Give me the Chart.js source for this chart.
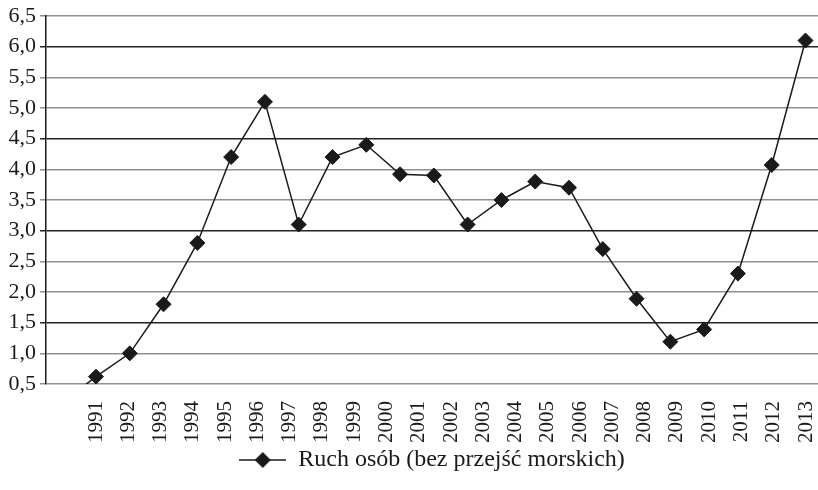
<!DOCTYPE html>
<html>
<head>
<meta charset="utf-8">
<script src="https://cdn.jsdelivr.net/npm/chart.js@4"></script>
<style>
  html, body { margin: 0; padding: 0; background: #fff; }
  #wrap { width: 818px; height: 490px; position: relative; }
</style>
</head>
<body>
<div id="wrap"><canvas id="c"></canvas></div>
<script>
// Ruch osób (bez przejść morskich)
var seriesLabel = 'Ruch osób (bez przejść morskich)';
// the line has its own evenly spaced slots (first one lies below the axis and is clipped)
var pointYears = [1990, 1991, 1992, 1993, 1994, 1995, 1996, 1997, 1998, 1999, 2000, 2001,
                  2002, 2003, 2004, 2005, 2006, 2007, 2008, 2009, 2010, 2011, 2012];
var values = [0.2, 0.62, 1.0, 1.8, 2.8, 4.2, 5.1, 3.1, 4.2, 4.4, 3.92, 3.9,
              3.1, 3.5, 3.8, 3.7, 2.7, 1.89, 1.19, 1.39, 2.3, 4.07, 6.1];
// printed year labels under the axis
var tickYears = [1991, 1992, 1993, 1994, 1995, 1996, 1997, 1998, 1999, 2000, 2001, 2002,
                 2003, 2004, 2005, 2006, 2007, 2008, 2009, 2010, 2011, 2012, 2013];
var yTicks = [0.5, 1.0, 1.5, 2.0, 2.5, 3.0, 3.5, 4.0, 4.5, 5.0, 5.5, 6.0, 6.5];
var darkGrid = [1.5, 3.0, 4.5, 6.0];

var FONT = 'Liberation Serif, Times New Roman, serif';
var INK = '#1a1a1a';

// legend symbol: short line with a diamond in the middle
function legendSymbol() {
  var cv = document.createElement('canvas');
  cv.width = 47; cv.height = 18;
  var g = cv.getContext('2d');
  g.strokeStyle = INK; g.lineWidth = 1.5;
  g.beginPath(); g.moveTo(0, 9); g.lineTo(47, 9); g.stroke();
  g.fillStyle = INK;
  g.beginPath(); g.moveTo(23.5, 1); g.lineTo(31.5, 9); g.lineTo(23.5, 17); g.lineTo(15.5, 9); g.closePath(); g.fill();
  return cv;
}
var symbol = legendSymbol();

new Chart(document.getElementById('c').getContext('2d'), {
  type: 'line',
  data: {
    labels: pointYears,
    datasets: [{
      label: seriesLabel,
      data: values,
      xAxisID: 'xd',
      borderColor: INK, borderWidth: 1.5, tension: 0,
      pointStyle: 'rectRot', pointRadius: 7.5, pointHoverRadius: 7.5,
      pointBackgroundColor: INK, pointBorderColor: INK, pointBorderWidth: 1
    }]
  },
  options: {
    responsive: true, maintainAspectRatio: false, animation: false,
    layout: { autoPadding: false, padding: { top: 16, right: 0, left: 0, bottom: 8 } },
    plugins: {
      tooltip: { enabled: false },
      legend: {
        position: 'bottom', fullSize: false,
        labels: {
          usePointStyle: true, pointStyleWidth: 47, padding: 4,
          color: INK, font: { family: FONT, size: 24 },
          generateLabels: function(chart) {
            return [{ text: seriesLabel, pointStyle: symbol, fillStyle: INK, strokeStyle: INK,
                      lineWidth: 0, hidden: false, datasetIndex: 0, fontColor: INK }];
          }
        }
      }
    },
    scales: {
      xd: {
        type: 'linear', display: false,
        min: 1989.52, max: 2012.37
      },
      x: {
        type: 'linear', position: 'bottom',
        min: 1989.451, max: 2013.372,
        grid: { display: false, drawTicks: false },
        border: { display: false },
        afterBuildTicks: function(s) { s.ticks = tickYears.map(function(v) { return { value: v }; }); },
        ticks: {
          autoSkip: false, minRotation: 90, maxRotation: 90, padding: 17,
          color: INK, font: { family: FONT, size: 21 },
          callback: function(v) { return String(v); }
        },
        afterFit: function(s) { s.height = 60; s.paddingLeft = 0; s.paddingRight = 0; }
      },
      y: {
        min: 0.5, max: 6.5,
        afterBuildTicks: function(s) { s.ticks = yTicks.map(function(v) { return { value: v }; }); },
        grid: {
          tickLength: 6, lineWidth: 1.5,
          color: function(ctx) { return darkGrid.indexOf(ctx.tick && ctx.tick.value) >= 0 ? '#222' : '#8f8f8f'; }
        },
        border: { display: true, color: INK, width: 1.5 },
        ticks: {
          autoSkip: false, padding: 4, color: INK, font: { family: FONT, size: 22 },
          callback: function(v) { return Number(v).toFixed(1).replace('.', ','); }
        },
        afterFit: function(s) { s.width = 46; s.paddingTop = 0; s.paddingBottom = 0; }
      }
    }
  }
});
</script>
</body>
</html>
